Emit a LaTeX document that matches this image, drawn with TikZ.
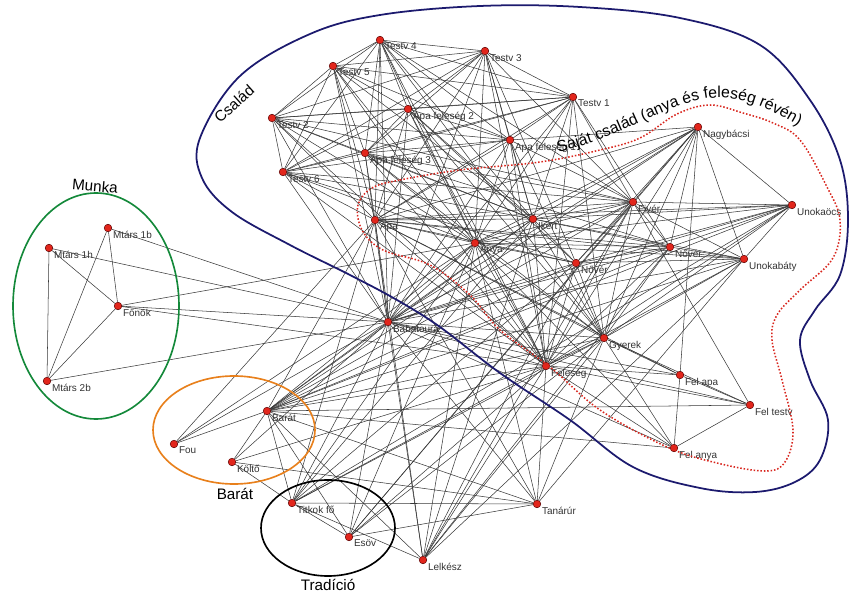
\documentclass[tikz,border=0pt]{standalone}
\usepackage{fontspec}
\setmainfont{Liberation Sans}
\setsansfont{Liberation Sans}
\usetikzlibrary{decorations.text, backgrounds}
\definecolor{nodered}{HTML}{E2261C}
\definecolor{csalad}{HTML}{1C1A6E}
\definecolor{sajat}{HTML}{D8261E}
\definecolor{munka}{HTML}{14893A}
\definecolor{barat}{HTML}{E8801C}

\begin{document}
\begin{tikzpicture}[x=0.03cm, y=-0.03cm, font=\sffamily,
  actor/.style={circle, draw=red!35!black, fill=nodered, inner sep=0pt,
                minimum size=6.5pt, line width=0.4pt, label distance=0pt},
  lab/.style={font=\sffamily\fontsize{8.5}{9}\selectfont, inner sep=1pt, text=black!80},
  link/.style={draw=black!78, line width=0.45pt},
  grp/.style={font=\sffamily\fontsize{13}{14}\selectfont, inner sep=0pt}]
  \useasboundingbox (0,0) rectangle (863,593);

  \foreach \nm/\px/\py/\lbl in {
      t4/380/40/Testv 4, t3/485/51/Testv 3, t5/333/66/Testv 5, t1/573/97/Testv 1,
      af2/408/109/Apa feleség 2, t2/272/118/Testv 2, af1/510/140/Apa feleség 1,
      af3/365/153/Apa feleség 3, t6/283/172/Testv 6, nagyb/698/127/Nagybácsi,
      fiver/633/202/Fivér, unokaocs/792/205/Unokaöcs, nover2/670/247/Nővér,
      unokabaty/744/259/Unokabáty, apa/375/220/Apa, ikert/533/219/Ikert,
      anya/475/243/Anya, nover1/576/263/Nővér, baba/388/322/Babatoura,
      gyerek/604/338/Gyerek, feleseg/546/366/Feleség, felapa/680/375/Fel apa,
      feltestv/750/405/Fel testv, felanya/674/448/Fel anya,
      mt1b/108/228/Mtárs 1b, mt1h/49/248/Mtárs 1h, fonok/118/306/Főnök,
      mt2b/47/381/Mtárs 2b, barat/267/411/Barát, fou/174/444/Fou,
      kolto/232/462/Költő, titkok/292/503/Titkok fő, esov/349/537/Esöv,
      lelkesz/423/560/Lelkész, tanarur/537/504/Tanárúr}
    \node[actor, label={[lab]-25:\lbl}] (\nm) at (\px,\py) {};

  \begin{scope}[on background layer]
    \foreach \src/\dsts in {
        t4/{t3,t5,t1,t2,af2,af1,af3,t6,apa,anya,ikert,baba,feleseg,gyerek,fiver},
        t3/{t5,t1,t2,af2,af1,af3,t6,apa,anya,ikert,baba,feleseg,fiver,nover1},
        t5/{t1,t2,af2,af1,af3,t6,apa,anya,ikert,baba,feleseg},
        t1/{t2,af2,af1,af3,t6,apa,anya,ikert,baba,fiver,feleseg,gyerek,nover2},
        t2/{af2,af1,af3,t6,apa,anya,ikert,baba,feleseg,fiver},
        af2/{af1,af3,t6,apa,anya,ikert,baba,feleseg,gyerek,nover1},
        af1/{af3,t6,apa,anya,ikert,baba,feleseg,fiver,nagyb,gyerek},
        af3/{t6,apa,anya,ikert,baba,feleseg,fiver,nover2,gyerek},
        t6/{apa,anya,ikert,baba,feleseg,fiver,nover1},
        apa/{anya,ikert,fiver,nover1,nover2,baba,feleseg,gyerek,unokaocs,unokabaty,nagyb,lelkesz,titkok,barat,fou,tanarur,felapa},
        anya/{ikert,fiver,nover1,nover2,baba,feleseg,gyerek,unokaocs,unokabaty,nagyb,lelkesz,titkok,barat,fou,esov,fonok,tanarur,felanya},
        ikert/{fiver,nover1,nover2,baba,feleseg,gyerek,unokaocs,unokabaty,nagyb,lelkesz,barat,titkok},
        fiver/{nover1,nover2,baba,feleseg,gyerek,unokaocs,unokabaty,nagyb,lelkesz,barat,esov,feltestv},
        nover1/{nover2,baba,feleseg,gyerek,unokaocs,unokabaty,nagyb,lelkesz,barat,titkok},
        nover2/{baba,feleseg,gyerek,unokaocs,unokabaty,nagyb,barat,lelkesz},
        nagyb/{unokaocs,unokabaty,baba,feleseg,gyerek,felapa,barat,esov},
        unokaocs/{unokabaty,baba,feleseg,gyerek,barat,titkok},
        unokabaty/{baba,feleseg,gyerek,barat,lelkesz,tanarur},
        baba/{feleseg,gyerek,felapa,feltestv,felanya,barat,fou,kolto,titkok,esov,lelkesz,tanarur,mt1b,mt1h,mt2b,fonok},
        gyerek/{feleseg,felapa,feltestv,felanya,barat,titkok,esov,lelkesz,tanarur},
        feleseg/{felapa,feltestv,felanya,barat,titkok,esov,lelkesz,tanarur,fonok,kolto},
        felapa/{feltestv,felanya}, feltestv/{felanya,barat}, felanya/{barat},
        barat/{fou,kolto,titkok,esov,lelkesz,tanarur}, kolto/{titkok,tanarur},
        titkok/{esov,tanarur,lelkesz}, esov/{tanarur},
        fonok/{mt1b,mt1h,mt2b}, mt1b/{mt2b}, mt1h/{mt2b}}
      \foreach \dst in \dsts
        \draw[link] (\src) -- (\dst);
  \end{scope}

  \draw[csalad, line width=1.5pt] plot[smooth cycle, tension=0.6] coordinates {
      (200,138) (240,76) (310,34) (380,15) (480,6) (580,7) (680,18) (760,45)
      (810,100) (840,160) (848,220) (840,275) (815,310) (800,340) (810,380)
      (828,420) (820,460) (795,482) (755,492) (700,488) (633,467) (570,420)
      (500,373) (440,327) (397,300) (350,275) (290,245) (232,212) (202,178)};
  \draw[sajat, line width=1.3pt, dash pattern=on 1.3pt off 1.6pt] plot[smooth cycle, tension=0.6] coordinates {
      (372,188) (400,180) (460,170) (540,162) (600,150) (640,138) (677,114)
      (710,105) (743,113) (773,123) (800,140) (827,187) (840,220) (833,258)
      (800,290) (777,315) (772,340) (782,380) (793,430) (785,462) (765,471)
      (717,463) (667,447) (600,410) (550,367) (500,330) (470,295) (430,265)
      (383,250) (362,230) (358,205)};
  \draw[munka, line width=1.4pt] (96,306) ellipse [x radius=83, y radius=113];
  \draw[barat, line width=1.4pt] (234,430) ellipse [x radius=81, y radius=54];
  \draw[black, line width=1.4pt] (328,528) ellipse [x radius=67, y radius=48];

  \node[grp, rotate=42] (csaladlab) at (234,104) {Család};
  \node[grp, rotate=-5] (munkalab) at (95,186) {Munka};
  \node[grp] (baratlab) at (235,494) {Barát};
  \node[grp] (tradlab) at (328,585) {Tradíció};
  \path[decorate, decoration={text along path, text align=center,
        text={|\sffamily\fontsize{13.5}{15}\selectfont|Saját család (anya és feleség révén)}}]
    (560,152) .. controls (625,136) and (668,103) .. (710,98)
              .. controls (742,95) and (768,108) .. (797,125);
\end{tikzpicture}
\end{document}
